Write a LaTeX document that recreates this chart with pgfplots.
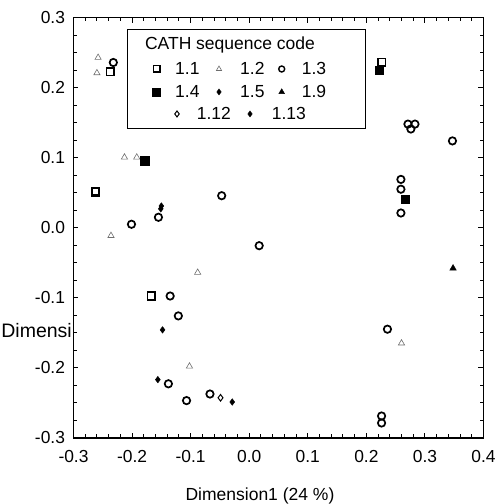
\documentclass[border=0pt]{standalone}
\usepackage{fontspec}
\setmainfont{Liberation Sans}
\usepackage{pgfplots}
\pgfplotsset{compat=1.18}
\newcommand\fs{\fontsize{17.5}{20}\selectfont}
\newcommand\ft{\fontsize{17.4}{20}\selectfont}
\newcommand\fd{\fontsize{19.5}{22}\selectfont}
\definecolor{trigray}{RGB}{110,110,110}
\begin{document}
\begin{tikzpicture}
\begin{axis}[
  at={(0,0)}, anchor=south west,
  scale only axis, width=410pt, height=420pt,
  xmin=-0.3, xmax=0.4, ymin=-0.3, ymax=0.3,
  xtick={-0.3,-0.2,-0.1,0,0.1,0.2,0.3,0.4},
  ytick={-0.3,-0.2,-0.1,0,0.1,0.2,0.3},
  minor x tick num=4, minor y tick num=3,
  tick align=inside,
  axis line style={line width=1.6pt},
  major tick style={line width=1pt, black},
  minor tick style={line width=0.9pt, black},
  major tick length=5pt, minor tick length=3.5pt,
  tick label style={font=\ft},
  xticklabel style={yshift=-9pt},
  yticklabel style={xshift=-5pt},
  /pgf/number format/.cd, fixed, fixed zerofill, precision=1, assume math mode=true,
]
% 1.2 open gray triangles
\addplot[only marks, mark=triangle, mark size=3.6pt, mark options={draw=trigray, line width=0.6pt}] coordinates {
(-0.258,0.243) (-0.260,0.221) (-0.213,0.1006) (-0.192,0.1006) (-0.236,-0.0114)
(-0.088,-0.064) (-0.102,-0.198) (0.260,-0.165)};
% 1.1 open squares
\addplot[only marks, mark=square, mark size=3.8pt, mark options={draw=black, line width=1.6pt}] coordinates {
(-0.237,0.223) (0.226,0.236) (-0.263,0.0505) (-0.262,0.052) (-0.167,-0.0976)};
% 1.4 filled squares
\addplot[only marks, mark=square*, mark size=4.5pt, mark options={draw=black, fill=black}] coordinates {
(-0.178,0.095)};
\addplot[only marks, mark=square*, mark size=3.8pt, mark options={draw=black, fill=black}] coordinates {
(0.222,0.225) (0.266,0.041)};
% 1.3 open circles
\addplot[only marks, mark=o, mark size=3.7pt, mark options={draw=black, line width=1.7pt}] coordinates {
(-0.232,0.236) (0.271,0.148) (0.283,0.148) (0.276,0.141) (0.347,0.124)
(0.259,0.069) (0.259,0.055) (0.259,0.021) (-0.047,0.0457) (-0.155,0.0149)
(-0.201,0.0049) (0.017,-0.0257) (-0.135,-0.0976) (-0.121,-0.126) (-0.138,-0.223)
(-0.107,-0.247) (-0.067,-0.2376) (0.236,-0.145) (0.226,-0.269) (0.226,-0.279)};
% 1.5 filled diamonds
\addplot[only marks, mark=diamond*, mark size=3.3pt, mark options={draw=black, fill=black}] coordinates {
(-0.148,-0.146) (-0.156,-0.217) (-0.151,0.027)};
% 1.13 filled diamonds
\addplot[only marks, mark=diamond*, mark size=3.3pt, mark options={draw=black, fill=black}] coordinates {
(-0.029,-0.249) (-0.150,0.031)};
% 1.12 open diamond
\addplot[only marks, mark=diamond, mark size=3.3pt, mark options={draw=black, line width=1pt}] coordinates {
(-0.049,-0.243)};
% 1.9 filled triangle
\addplot[only marks, mark=triangle*, mark size=3.8pt, mark options={draw=black, fill=black}] coordinates {
(0.348,-0.058)};
\end{axis}
% axis labels
\node[anchor=base, font=\fs] at (186.5pt,-63pt) {Dimension1 (24 \%)};
\node[anchor=base east, font=\fd, inner sep=0pt] at (-1.5pt,100.7pt) {Dimensi};
% legend
\draw[line width=1.2pt, fill=white] (54.2pt,309.4pt) rectangle (292.2pt,408.4pt);
\node[anchor=base, font=\fs, inner sep=0pt] at (156.5pt,387.7pt) {CATH sequence code};
\draw plot[only marks, mark=square, mark size=3.2pt, mark options={draw=black, line width=1.4pt}] coordinates {(83.2pt,368.7pt)};
\node[anchor=base west, font=\fs, inner sep=0pt] at (101.5pt,362.7pt) {1.1};
\draw plot[only marks, mark=triangle, mark size=3pt, mark options={draw=trigray, line width=0.6pt}] coordinates {(145.5pt,368.7pt)};
\node[anchor=base west, font=\fs, inner sep=0pt] at (166.5pt,362.7pt) {1.2};
\draw plot[only marks, mark=o, mark size=3pt, mark options={draw=black, line width=1.4pt}] coordinates {(208.2pt,368.7pt)};
\node[anchor=base west, font=\fs, inner sep=0pt] at (228.2pt,362.7pt) {1.3};
\draw plot[only marks, mark=square*, mark size=4pt, mark options={draw=black, fill=black}] coordinates {(83.2pt,345.7pt)};
\node[anchor=base west, font=\fs, inner sep=0pt] at (101.5pt,340pt) {1.4};
\draw plot[only marks, mark=diamond*, mark size=3pt, mark options={draw=black, fill=black}] coordinates {(145.5pt,345.7pt)};
\node[anchor=base west, font=\fs, inner sep=0pt] at (166.5pt,340pt) {1.5};
\draw plot[only marks, mark=triangle*, mark size=3.3pt, mark options={draw=black, fill=black}] coordinates {(208.2pt,345.7pt)};
\node[anchor=base west, font=\fs, inner sep=0pt] at (228.2pt,340pt) {1.9};
\draw plot[only marks, mark=diamond, mark size=3pt, mark options={draw=black, line width=1pt}] coordinates {(103.5pt,323.7pt)};
\node[anchor=base west, font=\fs, inner sep=0pt] at (123.2pt,317.7pt) {1.12};
\draw plot[only marks, mark=diamond*, mark size=3pt, mark options={draw=black, fill=black}] coordinates {(176.5pt,323.7pt)};
\node[anchor=base west, font=\fs, inner sep=0pt] at (198.2pt,317.7pt) {1.13};
\pgfresetboundingbox
\useasboundingbox (-73.5pt,-66.3pt) rectangle (422.5pt,437.7pt);
\end{tikzpicture}
\end{document}
